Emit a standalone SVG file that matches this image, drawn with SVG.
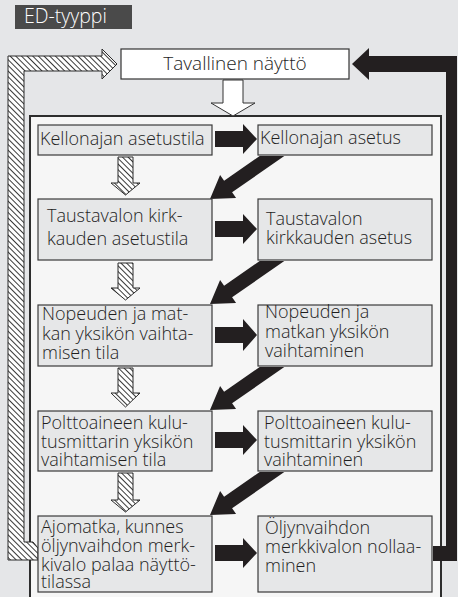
<svg xmlns="http://www.w3.org/2000/svg" width="458" height="597" viewBox="0 0 458 597">
<defs>
<pattern id="hatch" patternUnits="userSpaceOnUse" width="4" height="4" patternTransform="rotate(45)">
<rect width="4" height="4" fill="#ffffff"/>
<line x1="0" y1="0.5" x2="4" y2="0.5" stroke="#222" stroke-width="0.9"/>
</pattern>
</defs>
<style>
text{font-family:"Open Sans","Noto Sans","DejaVu Sans",sans-serif;font-size:18px;font-weight:300;fill:#1e1e1e}
.box{fill:#e6e7e8;stroke:#3a3a3a;stroke-width:1.2}
.hat{fill:url(#hatch);stroke:#2a2a2a;stroke-width:1}
.blk{fill:#231f20}
</style>
<rect width="458" height="597" fill="#e5e6e8"/>
<g id="title">
<rect x="15" y="5" width="117" height="24" fill="#4a4a4a"/>
<text x="24" y="23" style="fill:#ffffff;font-size:19.5px">ED-tyyppi</text>
</g>
<g id="frame">
<rect x="30" y="116" width="411" height="490" fill="#f6f6f6" stroke="#2d2d2d" stroke-width="2"/>
</g>
<g id="connectors">
<polygon class="hat" points="8,56 102,56 102,49 117,64 102,79 102,71 24,71 24,542 33,542 38,548 38,560 8,560"/>
<polygon points="223,80 243,80 243,103 255,103 233,116 211,103 223,103" fill="#ffffff" stroke="#333" stroke-width="1"/>
<polygon class="hat" points="118,157 133,157 133,183 140,183 125.5,195 111,183 118,183"/>
<polygon class="hat" points="118,263 133,263 133,288 140,288 125.5,300 111,288 118,288"/>
<polygon class="hat" points="118,368 133,368 133,393 140,393 125.5,407 111,393 118,393"/>
<polygon class="hat" points="118,473 133,473 133,500 140,500 125.5,512 111,500 118,500"/>
<g class="blk">
<polygon points="215,131 243,131 243,124 257,139 243,154 243,147 215,147"/>
<polygon points="215,221 243,221 243,214 257,229 243,244 243,237 215,237"/>
<polygon points="215,327 243,327 243,319 257,335 243,351 243,343 215,343"/>
<polygon points="215,432 243,432 243,425 257,440 243,455 243,448 215,448"/>
<polygon points="215,545 243,545 243,538 257,553 243,568 243,561 215,561"/>
<polygon points="259.7,156 284.3,156 232.1,192.2 236.1,198 210,199 220.1,175 224.1,180.8"/>
<polygon points="259.7,261 284.3,261 232.1,297.2 236.1,303 210,304 220.1,280 224.1,285.8"/>
<polygon points="259.7,367 284.3,367 232.1,403.2 236.1,409 210,410 220.1,386 224.1,391.8"/>
<polygon points="259.7,472 284.3,472 232.1,508.2 236.1,514 210,515 220.1,491 224.1,496.8"/>
<polygon points="433,546 446,546 446,72 369,72 369,80 352,64 369,48 369,56 457,56 457,561 433,561"/>
</g>
</g>
<g id="n-top">
<rect x="121" y="49" width="228" height="30" fill="#ffffff" stroke="#333" stroke-width="1.2"/>
<text x="235" y="70" text-anchor="middle" style="font-size:19px">Tavallinen näyttö</text>
</g>
<g id="n-l1">
<rect class="box" x="38" y="125" width="174" height="30"/>
<text x="40" y="145">Kellonajan asetustila</text>
</g>
<g id="n-l2">
<rect class="box" x="38" y="199" width="174" height="61"/>
<text x="47" y="222">Taustavalon kirk-</text>
<text x="47" y="245">kauden asetustila</text>
</g>
<g id="n-l3">
<rect class="box" x="38" y="305" width="174" height="61"/>
<text x="42" y="320">Nopeuden ja mat-</text>
<text x="42" y="340">kan yksikön vaihta-</text>
<text x="42" y="359">misen tila</text>
</g>
<g id="n-l4">
<rect class="box" x="38" y="411" width="174" height="60"/>
<text x="41" y="429">Polttoaineen kulu-</text>
<text x="41" y="448">tusmittarin yksikön</text>
<text x="41" y="466">vaihtamisen tila</text>
</g>
<g id="n-l5">
<rect class="box" x="38" y="516" width="174" height="76"/>
<text x="41" y="533">Ajomatka, kunnes</text>
<text x="41" y="552">öljynvaihdon merk-</text>
<text x="41" y="571">kivalo palaa näyttö-</text>
<text x="41" y="588">tilassa</text>
</g>
<g id="n-r1">
<rect class="box" x="258" y="125" width="174" height="30"/>
<text x="260" y="144">Kellonajan asetus</text>
</g>
<g id="n-r2">
<rect class="box" x="258" y="199" width="174" height="61"/>
<text x="266" y="225">Taustavalon</text>
<text x="266" y="244">kirkkauden asetus</text>
</g>
<g id="n-r3">
<rect class="box" x="258" y="305" width="174" height="61"/>
<text x="265" y="318">Nopeuden ja</text>
<text x="265" y="338">matkan yksikön</text>
<text x="265" y="357">vaihtaminen</text>
</g>
<g id="n-r4">
<rect class="box" x="258" y="411" width="174" height="60"/>
<text x="264" y="429">Polttoaineen kulu-</text>
<text x="264" y="448">tusmittarin yksikön</text>
<text x="264" y="466">vaihtaminen</text>
</g>
<g id="n-r5">
<rect class="box" x="258" y="516" width="174" height="76"/>
<text x="265" y="534">Öljynvaihdon</text>
<text x="265" y="553">merkkivalon nollaa-</text>
<text x="265" y="572">minen</text>
</g>
</svg>
